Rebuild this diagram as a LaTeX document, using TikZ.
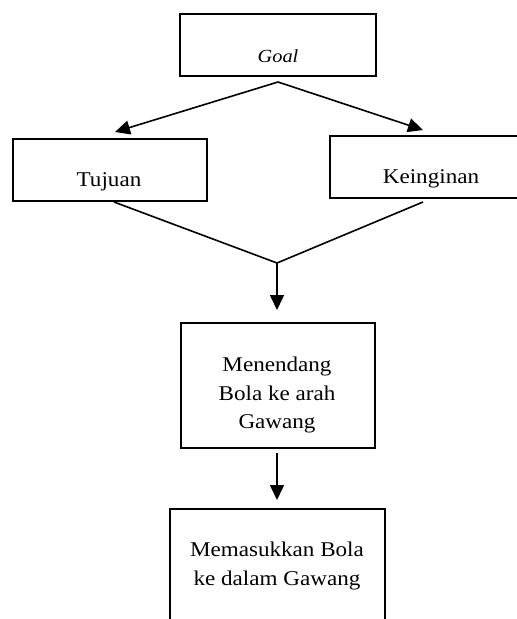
\documentclass[tikz,border=0pt]{standalone}
\usepackage{fontspec}
\setmainfont{Liberation Serif}[FakeStretch=1.1]
\usetikzlibrary{arrows.meta}

\tikzset{
  box/.style={draw, line width=1.7pt, rectangle, inner sep=0pt, anchor=north west},
  txt/.style={anchor=base, inner sep=0pt, align=center, font=\fontsize{21}{28.5}\selectfont},
  link/.style={line width=1.6pt},
  flow/.style={link, -{Triangle[length=15pt,width=14pt]}}
}

\begin{document}
\begin{tikzpicture}[x=1pt, y=-1pt]
  \useasboundingbox (0,0) rectangle (517,619);
  \clip (0,0) rectangle (517,619);

  % boxes (top-left corner, size)
  \node[box, minimum width=196pt, minimum height=62pt] (goal) at (179,13) {};
  \node[box, minimum width=194pt, minimum height=62pt] (tujuan) at (12,138) {};
  \node[box, minimum width=204pt, minimum height=62pt] (ingin) at (329,135) {};
  \node[box, minimum width=194pt, minimum height=125pt] (tendang) at (180,322) {};
  \node[box, minimum width=215pt, minimum height=140pt] (masuk) at (169,508) {};

  % labels, placed on their baselines
  \node[txt, font=\fontsize{18.5}{20}\selectfont\itshape] (tgoal) at (278,62) {Goal};
  \node[txt] (ttujuan) at (109,186) {Tujuan};
  \node[txt] (tingin) at (431,183) {Keinginan};
  \node[txt, anchor=north] (ttendang) at (277,357) {Menendang\\Bola ke arah\\Gawang};
  \node[txt, anchor=north] (tmasuk) at (277,542) {Memasukkan Bola\\ke dalam Gawang};

  % split below the goal
  \coordinate (apex) at (278,82);
  \coordinate (tipL) at (115,132);
  \coordinate (tipR) at (423,130);
  \draw[flow] (apex) -- (tipL);
  \draw[flow] (apex) -- (tipR);

  % merge into the first action
  \coordinate (fromL) at (114,202);
  \coordinate (fromR) at (423,202);
  \coordinate (join) at (277,263);
  \coordinate (tip1) at (277,310);
  \draw[link] (fromL) -- (join) -- (fromR);
  \draw[flow] (join) -- (tip1);

  % second action
  \coordinate (start2) at (277,453);
  \coordinate (tip2) at (277,500);
  \draw[flow] (start2) -- (tip2);
\end{tikzpicture}
\end{document}
